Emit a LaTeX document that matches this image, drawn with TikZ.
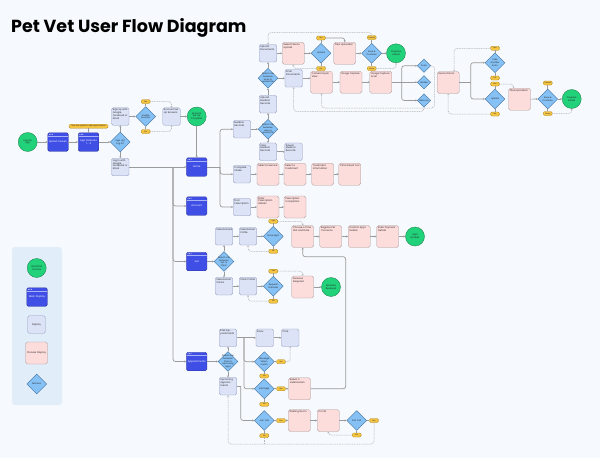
\documentclass[tikz,border=0pt]{standalone}
\usepackage{fontspec}
\setmainfont{Poppins}
\newfontfamily\titlefont{Poppins}
\usetikzlibrary{shapes.geometric,arrows.meta}
\definecolor{bg}{HTML}{F6F9FD}
\definecolor{legF}{HTML}{E2EDFA}
\definecolor{mainF}{HTML}{3F4FE6}
\definecolor{mainB}{HTML}{2A2F9A}
\definecolor{mainL}{HTML}{A9B2F5}
\definecolor{dispF}{HTML}{DDE3F6}
\definecolor{dispB}{HTML}{8D97BD}
\definecolor{procF}{HTML}{FDDCDC}
\definecolor{procB}{HTML}{A89999}
\definecolor{decF}{HTML}{86C1F5}
\definecolor{decB}{HTML}{3F6C97}
\definecolor{startF}{HTML}{22D27B}
\definecolor{startB}{HTML}{1B7D4A}
\definecolor{ylF}{HTML}{F5C542}
\definecolor{ylB}{HTML}{A8821C}
\definecolor{lineC}{HTML}{9B9B9B}
\definecolor{dotC}{HTML}{B4B4B4}
\newcommand\Dec[4][20pt]{\node[dec,minimum width=#1,minimum height=#1] (#2) at (#3) {}; \node[dect] (#2t) at (#2.center) {#4};}
\begin{document}
\begin{tikzpicture}[x=1pt,y=-1pt,
 txt/.style={font=\fontsize{2.4}{2.8}\selectfont, text=black!85},
 dispbase/.style={draw=dispB, fill=dispF, rounded corners=1.5pt, line width=0.35pt, inner sep=1.2pt, txt},
 disp/.style={dispbase, execute at begin node={\begin{minipage}[c][15.1pt][t]{15.1pt}\raggedright}, execute at end node={\end{minipage}}},
 procbase/.style={draw=procB, fill=procF, rounded corners=1.8pt, line width=0.35pt, inner sep=1.4pt, txt},
 proc/.style={procbase, execute at begin node={\begin{minipage}[c][19.2pt][t]{19.2pt}\raggedright}, execute at end node={\end{minipage}}},
 mainbox/.style={draw=mainB, fill=mainF, rounded corners=1.5pt, line width=0.4pt, minimum width=20.5pt, minimum height=18.5pt, inner sep=0.5pt, text=white, font=\fontsize{2.5}{3}\selectfont, align=center, text width=18pt,
   path picture={\draw[mainL, line width=0.3pt] ([yshift=-3pt]path picture bounding box.north west) -- ([yshift=-3pt]path picture bounding box.north east);
     \foreach \k in {1.6,3.1,4.6} {\fill[white] ([xshift=\k pt,yshift=-1.5pt]path picture bounding box.north west) circle (0.45pt);}}},
 dec/.style={diamond, draw=decB, fill=decF, line width=0.35pt, inner sep=0pt},
 dect/.style={font=\fontsize{2.2}{2.6}\selectfont, text=black!85, align=center, text width=12pt, inner sep=0pt},
 term/.style={circle, draw=startB, fill=startF, line width=0.35pt, minimum size=19pt, inner sep=0pt, align=center, text width=13pt, font=\fontsize{2.3}{2.7}\selectfont, text=black!85},
 ylab/.style={draw=ylB, fill=ylF, rounded corners=1.3pt, line width=0.3pt, minimum width=9pt, minimum height=4pt, inner sep=0.4pt, font=\fontsize{1.9}{2.2}\selectfont, text=black!85},
 ln/.style={draw=lineC, line width=0.7pt, rounded corners=2.5pt},
 conn/.style={ln, -{Stealth[length=1.8pt,width=2pt]}},
 dot/.style={draw=dotC, line width=0.5pt, dash pattern=on 1pt off 0.7pt, rounded corners=3pt},
 dota/.style={dot, -{Stealth[length=1.6pt,width=1.8pt]}}]
\fill[bg] (0,0) rectangle (600,458);
\useasboundingbox (0,0) rectangle (600,458);
\node[anchor=base west, font=\titlefont\bfseries\fontsize{17.5}{20}\selectfont, inner sep=0pt] (title) at (11,32.3) {Pet Vet User Flow Diagram};

% legend
\fill[legF, rounded corners=3pt] (12,247) rectangle (62,405);
\node[term] (lterm) at (36.7,268) {Start/End\\Process};
\node[mainbox] (lmain) at (37,297) {Main Display};
\node[dispbase, minimum width=17.5pt, minimum height=17.5pt, align=center, text width=15pt] (ldisp) at (36.5,324.5) {Display};
\node[procbase, minimum width=22pt, minimum height=22pt, align=center, text width=19pt] (lproc) at (36.5,353) {Process Display};
\Dec{ldec}{36.7,384}{Decision}

% entry
\node[term] (launch) at (27.7,142) {Launch App};
\node[mainbox] (splash) at (58,142) {Splash Screen};
\node[mainbox] (features) at (88.5,142) {App Features\\1 - 3};
\node[ylab, minimum width=39pt] (skip) at (88.5,126.2) {User has option to skip app features};
\Dec{signdec}{120.3,142}{Sign Up/ Log In?}
\node[disp] (signup) at (120.3,116.5) {Sign Up with Google, Facebook or Email};
\node[disp] (login) at (120.3,167) {Log In with Google, Facebook or Email};
\Dec{locdec}{145.7,116.5}{Enable Location}
\node[ylab] (locyes) at (145.7,101.5) {Yes};
\node[ylab] (locno) at (145.7,131.5) {No};
\node[disp] (setup) at (171.5,116.5) {Account Set Up Screens};
\node[term] (setupdone) at (196.7,116.5) {Account Set Up Complete};
\node[mainbox] (home) at (196.7,167) {Home};
\node[mainbox] (account) at (196.7,206) {Account};
\node[mainbox] (vet) at (196.7,261.5) {Vet};
\node[mainbox] (appts) at (196.7,361.5) {Appointments};

% home branch
\node[disp] (medrec) at (242,129.2) {Medical Records};
\Dec{viewdec}{268,129.2}{Select one between view or upload file}
\node[disp] (viewrec) at (268,151.8) {View Medical Records};
\node[disp] (savedrec) at (293.5,151.8) {Saved Medical Records};
\node[disp] (uploadrec) at (268,104.2) {Upload Medical Records};
\Dec{scandec}{268,78.3}{Select one between scan or upload file}
\node[disp] (uploaddocs) at (268,53.3) {Upload Documents};
\node[disp] (scandocs) at (293.7,78.3) {Scan Documents};
\node[proc] (selectfiles) at (293.3,53.3) {Select Files to Upload};
\Dec{uploaddec}{321,53.3}{Upload}
\node[ylab] (upyes) at (321,38) {Yes};
\node[ylab] (upno) at (321,68.5) {No};
\node[proc] (filesup1) at (344.7,53.3) {Files Uploaded};
\Dec{savedec1}{371.7,53.3}{Save \& Continue}
\node[ylab] (s1cancel) at (371.7,37.5) {Cancel};
\node[ylab] (s1save) at (371.7,68.5) {Save};
\node[term] (saved1) at (396,53.3) {Progress Saved};
\node[proc] (camera) at (321.5,82.2) {Camera Open View};
\node[proc] (capture) at (351,82.2) {Image Capture};
\node[proc] (capscan) at (380.8,82.2) {Image Capture Scan};
\Dec[13.5pt]{d1}{424,65.8}{Scan}
\Dec[13.5pt]{d2}{424,82.2}{Retake}
\Dec[13.5pt]{d3}{424,100.5}{Remove}
\node[proc] (second) at (448.2,82.5) {Second Scan};
\Dec{anotherdec}{495,62.7}{Take Another Scan}
\node[ylab] (anyes) at (495,48.3) {Yes};
\node[ylab] (anno) at (495,78) {No};
\Dec{upload2dec}{495,99}{Upload}
\node[ylab] (u2yes) at (495,84) {Yes};
\node[ylab] (u2no) at (495,114) {No};
\node[proc] (filesup2) at (519.5,99.2) {Files Uploaded};
\Dec{savedec2}{547.7,99}{Save \& Continue}
\node[ylab] (s2cancel) at (547.7,83) {Cancel};
\node[ylab] (s2save) at (547.7,113.5) {Save};
\node[term] (saved2) at (571.7,99) {Progress Saved};

\node[disp] (intake) at (242,174.2) {Complete Intake};
\node[proc] (service) at (268,174.2) {Select a Service};
\node[proc] (treatment) at (295,174.2) {Select a Treatment};
\node[proc] (treatinfo) at (322.7,174.2) {Treatment Information};
\node[proc] (clinicsnear) at (349.8,174.2) {Clinics Near You};
\node[disp] (findrx) at (242,207) {Find Prescription};
\node[proc] (enterrx) at (268,207) {Enter Prescription Details};
\node[proc] (rxdone) at (295,207) {Prescription Completion};

% vet branch
\Dec{vetdec}{224,261.5}{Select one between Vet or Clinic}
\node[disp] (vets) at (224,236.3) {Veterinarians};
\node[disp] (vetprof) at (248,236.3) {Veterinarian Profile};
\Dec{bookdec}{273.3,236.3}{Book Appt}
\node[ylab] (bookyes) at (273.3,221.3) {Yes};
\node[ylab] (bookno) at (273.3,251.3) {No};
\node[proc] (timeslot) at (302.7,236.5) {Choose a Time Slot and Date};
\node[proc] (concerns) at (330.7,236.5) {Register Pet Concerns};
\node[proc] (confirm) at (359.2,236.5) {Confirm Appt Details};
\node[proc] (payment) at (387.7,236.5) {Enter Payment Details};
\node[term] (booked) at (415,236.5) {Appt Booked};
\node[disp] (clinics) at (224,286.2) {Veterinarian Clinics};
\node[disp] (clinprof) at (248,286.2) {Clinic Profile};
\Dec{estdec}{273.3,286.2}{Request Estimate}
\node[ylab] (estyes) at (273.3,271.2) {Yes};
\node[ylab] (estno) at (273.3,301.2) {No};
\node[proc] (services) at (302.7,287) {Services Required};
\node[term] (estimate) at (331,287) {Estimate Received};

% appointments branch
\Dec{apptdec}{228,361.5}{Select one between Past or Upcoming Appt}
\node[disp] (past) at (228,337.8) {Past Appointments};
\node[disp] (upcoming) at (228,386.2) {Upcoming Appointments};
\node[disp] (inbox) at (264.7,337.8) {Inbox};
\node[disp] (chat) at (290.2,337.8) {Chat};
\Dec{msgdec}{264.3,361.7}{Message Veterinarian}
\node[ylab] (msgyes) at (281,361.7) {Yes};
\node[ylab] (msgno) at (264.3,376) {No};
\Dec{adddec}{264.3,388.8}{Add Appt}
\node[ylab] (addyes) at (281,388.8) {Yes};
\node[ylab] (addno) at (264.3,404.3) {No};
\node[proc] (selectvet) at (299.5,388.8) {Select a Veterinarian};
\Dec{joindec}{264.3,420.5}{Join Call}
\node[ylab] (joinyes) at (281,420.5) {Yes};
\node[ylab] (joinno) at (264.3,435.7) {No};
\node[proc] (waiting) at (299.3,420.5) {Waiting Room};
\node[proc] (incall) at (328.3,420.5) {In Call};
\Dec{enddec}{356.7,420.5}{End Call}
\node[ylab] (endyes) at (374,420.5) {Yes};
\node[ylab] (endno) at (356.7,435) {No};

% ---------- connectors ----------
\draw[conn] (launch) -- (splash);
\draw[conn] (splash) -- (features);
\draw[conn] (features) -- (signdec);
\draw[ln] (skip) -- (features);
\draw[conn] (signdec) -- (signup);
\draw[conn] (signdec) -- (login);
\draw[conn] (signup) -- (locdec);
\draw[ln] (locdec) -- (locyes);
\draw[ln] (locdec) -- (locno);
\draw[dota] (locyes) -| (setup);
\draw[dota] (locno) -| (setup);
\draw[conn] (setup) -- (setupdone);
\draw[conn] (setupdone) -- (home);
\draw[conn] (login) -- (home);
\coordinate (lbus) at (173,167);
\draw[conn] (lbus) |- (account);
\draw[conn] (lbus) |- (vet);
\draw[conn] (lbus) |- (appts);

\coordinate (hbus) at (220,167);
\draw[ln] (home) -- (hbus);
\draw[conn] (hbus) |- (medrec);
\draw[conn] (hbus) |- (intake);
\draw[conn] (hbus) |- (findrx);

\draw[conn] (medrec) -- (viewdec);
\draw[conn] (viewdec) -- (uploadrec);
\draw[conn] (viewdec) -- (viewrec);
\draw[conn] (viewrec) -- (savedrec);
\draw[conn] (uploadrec) -- (scandec);
\draw[conn] (scandec) -- (uploaddocs);
\draw[conn] (scandec) -- (scandocs);
\draw[conn] (uploaddocs) -- (selectfiles);
\draw[conn] (selectfiles) -- (uploaddec);
\draw[ln] (uploaddec) -- (upyes);
\draw[ln] (uploaddec) -- (upno);
\draw[conn] (upyes) -| (filesup1);
\draw[dota] (upno) -| (selectfiles);
\draw[conn] (filesup1) -- (savedec1);
\draw[conn] (savedec1) -- (saved1);
\draw[ln] (savedec1) -- (s1cancel);
\draw[ln] (savedec1) -- (s1save);
\draw[dota] (s1cancel.north) -- (371.7,32.5) -| (uploaddocs.north);
\draw[dota] (s1save) -| (saved1);

\draw[conn] (scandocs.east) -- (scandocs.east -| camera.west);
\draw[conn] (camera) -- (capture);
\draw[conn] (capture) -- (capscan);
\coordinate (sbus) at (401.7,82.2);
\draw[ln] (capscan) -- (sbus);
\draw[conn] (sbus) |- (d1);
\draw[conn] (sbus) -- (d2);
\draw[conn] (sbus) |- (d3);
\draw[dota] (d1.east) -- (434.5,65.8) -- (434.5,108) -- (321.5,108) -- (camera.south);
\draw[dota] (d3.south) -- (424,111.5) -- (293.7,111.5) -- (scandocs.south);

\coordinate (rbus) at (470.7,82.5);
\draw[ln] (second) -- (rbus);
\draw[conn] (rbus) |- (anotherdec);
\draw[conn] (rbus) |- (upload2dec);
\draw[ln] (anotherdec) -- (anyes);
\draw[ln] (anotherdec) -- (anno);
\draw[ln] (upload2dec) -- (u2yes);
\draw[ln] (upload2dec) -- (u2no);
\draw[dota] (anyes.west) -| ([xshift=6pt]second.north);
\draw[dota] (u2no.west) -| (second.south);
\draw[dota] (u2yes.east) -| ([xshift=-6pt]filesup2.north);
\draw[conn] (filesup2) -- (savedec2);
\draw[conn] (savedec2) -- (saved2);
\draw[ln] (savedec2) -- (s2cancel);
\draw[ln] (savedec2) -- (s2save);
\draw[dota] (s2save.east) -| (saved2.south);

\draw[conn] (intake) -- (service);
\draw[conn] (service) -- (treatment);
\draw[conn] (treatment) -- (treatinfo);
\draw[conn] (treatinfo) -- (clinicsnear);
\draw[conn] (findrx) -- (enterrx);
\draw[conn] (enterrx) -- (rxdone);

\draw[conn] (vet) -- (vetdec);
\draw[conn] (vetdec) -- (vets);
\draw[conn] (vetdec) -- (clinics);
\draw[conn] (vets) -- (vetprof);
\draw[conn] (vetprof) -- (bookdec);
\draw[ln] (bookdec) -- (bookyes);
\draw[ln] (bookdec) -- (bookno);
\draw[dota] (bookyes.east) -| (timeslot.north);
\draw[dota] (bookno.west) -| (vetprof.south);
\draw[conn] (timeslot) -- (concerns);
\draw[conn] (concerns) -- (confirm);
\draw[conn] (confirm) -- (payment);
\draw[conn] (payment) -- (booked);
\draw[conn] (clinics) -- (clinprof);
\draw[conn] (clinprof) -- (estdec);
\draw[ln] (estdec) -- (estyes);
\draw[ln] (estdec) -- (estno);
\draw[dota] (estyes.east) -| (services.north);
\draw[dota] (estno.west) -| (clinprof.south);
\draw[conn] (services) -- (estimate);

\draw[conn] (appts) -- (apptdec);
\draw[conn] (apptdec) -- (past);
\draw[conn] (apptdec) -- (upcoming);
\coordinate (pbus) at (244,337.8);
\draw[conn] (past) -- (inbox);
\draw[conn] (pbus) |- (msgdec);
\draw[conn] (pbus) |- (adddec);
\draw[conn] (inbox) -- (chat);
\draw[ln] (msgdec) -- (msgyes);
\draw[ln] (msgdec) -- (msgno);
\draw[dota] (msgyes.east) -| (chat.south);
\draw[ln] (adddec) -- (addyes);
\draw[ln] (adddec) -- (addno);
\draw[conn] (addyes) -- (selectvet);
\draw[conn] (selectvet.east) -- (345.7,388.8) -- (345.7,256.7) -- (302.7,256.7) -- (timeslot.south);
\coordinate (ubus) at (240.7,386.2);
\draw[ln] (upcoming) -- (ubus);
\draw[conn] (ubus) |- (joindec);
\draw[ln] (joindec) -- (joinyes);
\draw[ln] (joindec) -- (joinno);
\draw[conn] (joinyes) -- (waiting);
\draw[conn] (waiting) -- (incall);
\draw[conn] (incall) -- (enddec);
\draw[ln] (enddec) -- (endyes);
\draw[ln] (enddec) -- (endno);
\draw[dota] (endyes.south) -- (374,444) -- (228,444) -- (upcoming.south);
\draw[dot] (joinno.south) -- (264.3,444);
\draw[dota] (endno.west) -| (incall.south);
\end{tikzpicture}
\end{document}
